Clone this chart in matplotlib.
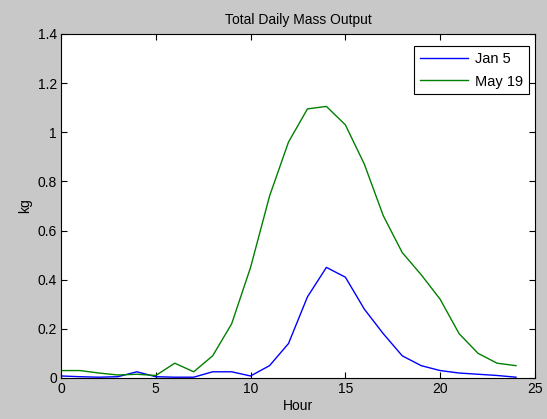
import matplotlib
matplotlib.use('Agg')
import matplotlib.pyplot as plt

hours = list(range(0, 25))
jan5 = [0.008, 0.005, 0.003, 0.005, 0.025, 0.005, 0.003, 0.003, 0.025, 0.025,
        0.008, 0.05, 0.14, 0.33, 0.45, 0.41, 0.28, 0.18, 0.09, 0.05,
        0.03, 0.02, 0.015, 0.01, 0.003]
may19 = [0.03, 0.03, 0.02, 0.012, 0.015, 0.01, 0.06, 0.025, 0.09, 0.22,
         0.45, 0.74, 0.96, 1.095, 1.105, 1.03, 0.87, 0.66, 0.51, 0.42,
         0.32, 0.18, 0.10, 0.06, 0.05]

plt.rcParams['font.family'] = ['Liberation Sans', 'DejaVu Sans']

fig = plt.figure(figsize=(5.47, 4.19), dpi=100, facecolor='#c8c8c8')
ax = fig.add_axes([0.1115, 0.098, 0.8665, 0.821])
ax.plot(hours, jan5, color='blue', linewidth=1, label='Jan 5')
ax.plot(hours, may19, color='green', linewidth=1, label='May 19')

ax.set_xlim(0, 25)
ax.set_ylim(0, 1.4)
ax.set_xticks([0, 5, 10, 15, 20, 25])
ax.set_yticks([0, 0.2, 0.4, 0.6, 0.8, 1, 1.2, 1.4])
ax.set_yticklabels(['0', '0.2', '0.4', '0.6', '0.8', '1', '1.2', '1.4'])
ax.tick_params(direction='in', top=True, right=True, labelsize=10, length=4, pad=3)
ax.set_xlabel('Hour', fontsize=10, labelpad=2)
ax.set_ylabel('kg', fontsize=10, labelpad=4)
ax.set_title('Total Daily Mass Output', fontsize=10, pad=7)
for s in ax.spines.values():
    s.set_linewidth(0.8)

leg = ax.legend(loc='upper right', fontsize=10.5, fancybox=False, framealpha=1,
                edgecolor='black', bbox_to_anchor=(0.988, 0.965), borderaxespad=0,
                handlelength=3.3, labelspacing=0.6, handletextpad=0.5)
leg.get_frame().set_linewidth(0.8)

fig.savefig('out.png', dpi=100, facecolor=fig.get_facecolor())
